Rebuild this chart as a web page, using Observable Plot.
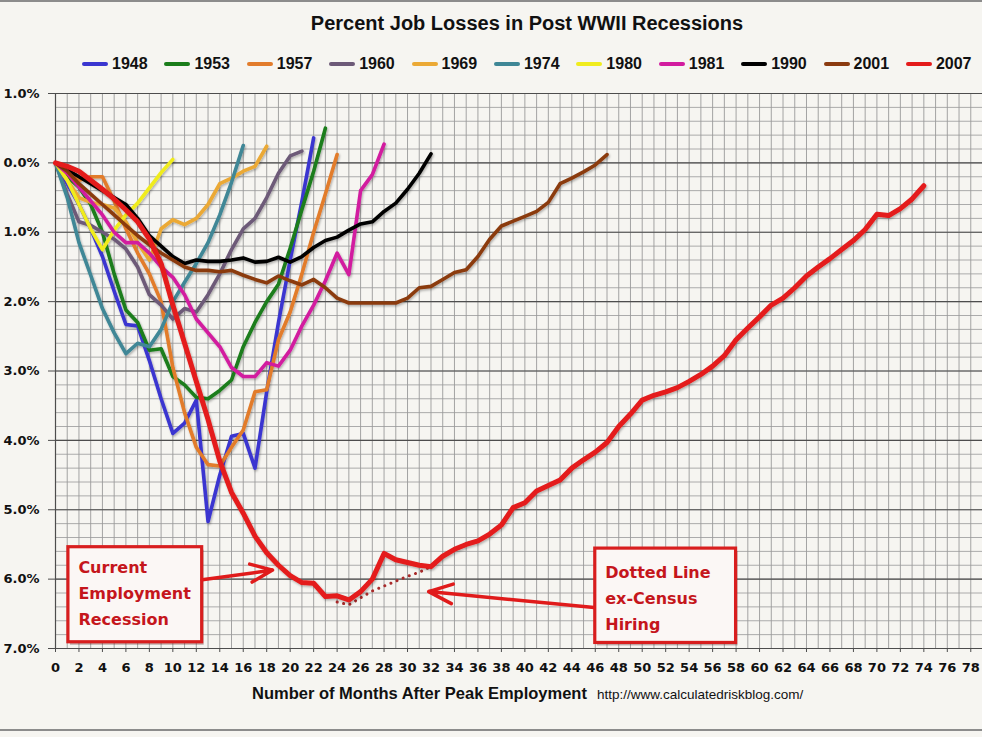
<!DOCTYPE html>
<html>
<head>
<meta charset="utf-8">
<script src="https://cdn.jsdelivr.net/npm/d3@7"></script>
<script src="https://cdn.jsdelivr.net/npm/@observablehq/plot@0.6"></script>
<style>
  html, body { margin: 0; padding: 0; background: #f6f5f1; }
  #wrap { position: relative; width: 982px; height: 737px; overflow: hidden; background: #f6f5f1; font-family: "Liberation Sans", Arial, sans-serif; }
  .hline { position: absolute; left: 0; width: 982px; height: 2px; background: #8c8c8c; }
  #title { position: absolute; left: 0; top: 12px; width: 982px; padding-left: 72px; box-sizing: border-box; text-align: center; font-weight: bold; font-size: 20px; color: #111; }
  #legend { position: absolute; left: 82px; top: 54px; height: 20px; display: flex; }
  .item { width: 82.4px; display: flex; align-items: center; }
  .sw { width: 26px; height: 4px; border-radius: 2px; margin-right: 4px; }
  .lab { font-weight: bold; font-size: 16px; color: #111; }
  #chart { position: absolute; left: 0; top: 80px; }
  #xtitle { position: absolute; left: 252px; top: 684px; display: flex; align-items: baseline; white-space: nowrap; color: #111; }
  #xtitle .t { font-weight: bold; font-size: 16.5px; }
  #xtitle .u { font-size: 13.5px; margin-left: 10px; }
</style>
</head>
<body>
<div id="wrap">
  <div class="hline" style="top:0"></div>
  <div id="title">Percent Job Losses in Post WWII Recessions</div>
  <div id="legend"></div>
  <div id="chart"></div>
  <div id="xtitle"><span class="t">Number of Months After Peak Employment</span><span class="u">http://www.calculatedriskblog.com/</span></div>
  <div class="hline" style="top:729px"></div>
</div>
<script>
// ---- data (percent change in employment vs. peak, by month after peak) ----
const years = ["1948", "1953", "1957", "1960", "1969", "1974", "1980", "1981", "1990", "2001", "2007"];
const colors = ["#3a36d0", "#1a7d1a", "#e27c2c", "#6d5a78", "#eba935", "#3f8796", "#f0ec1e", "#d21c9f", "#000000", "#8b3b10", "#e41b1b"];

const s1948 = [0, -0.3, -0.6, -0.95, -1.35, -1.85, -2.33, -2.35, -2.85, -3.4, -3.9, -3.75, -3.42, -5.17, -4.5, -3.94, -3.9, -4.4, -3.3, -2.3, -1.4, -0.55, 0.36];
const s1953 = [0, -0.2, -0.35, -0.6, -1.0, -1.6, -2.12, -2.3, -2.7, -2.68, -3.08, -3.2, -3.38, -3.4, -3.28, -3.13, -2.65, -2.3, -2.0, -1.75, -1.23, -0.67, -0.12, 0.5];
const s1957 = [0, -0.15, -0.25, -0.2, -0.2, -0.55, -0.95, -1.3, -1.6, -2.0, -2.95, -3.6, -4.1, -4.35, -4.37, -4.1, -3.85, -3.3, -3.27, -2.55, -2.15, -1.6, -1.0, -0.45, 0.12];
const s1960 = [0, -0.45, -0.85, -0.9, -1.0, -1.1, -1.24, -1.5, -1.9, -2.05, -2.25, -2.1, -2.15, -1.9, -1.6, -1.25, -0.95, -0.8, -0.5, -0.15, 0.1, 0.17];
const s1969 = [0, -0.25, -0.5, -0.57, -0.6, -0.65, -0.85, -1.15, -1.4, -0.95, -0.82, -0.89, -0.8, -0.6, -0.3, -0.22, -0.12, -0.05, 0.24];
const s1974 = [0, -0.5, -1.15, -1.62, -2.1, -2.45, -2.75, -2.6, -2.65, -2.4, -2.0, -1.72, -1.45, -1.15, -0.75, -0.28, 0.25];
const s1980 = [0, -0.25, -0.6, -0.95, -1.25, -0.97, -0.75, -0.58, -0.36, -0.14, 0.05];
const s1981 = [0, -0.15, -0.35, -0.55, -0.75, -1.0, -1.15, -1.15, -1.3, -1.5, -1.65, -1.9, -2.25, -2.45, -2.65, -2.95, -3.08, -3.08, -2.88, -2.93, -2.7, -2.35, -2.05, -1.7, -1.3, -1.61, -0.4, -0.17, 0.27];
const s1990 = [0, -0.1, -0.2, -0.3, -0.4, -0.5, -0.6, -0.8, -1.05, -1.2, -1.35, -1.45, -1.4, -1.42, -1.42, -1.4, -1.37, -1.43, -1.42, -1.36, -1.43, -1.35, -1.22, -1.12, -1.07, -0.97, -0.88, -0.85, -0.7, -0.58, -0.38, -0.15, 0.13];
const s2001 = [0, -0.12, -0.3, -0.45, -0.6, -0.75, -0.9, -1.05, -1.18, -1.3, -1.4, -1.5, -1.55, -1.55, -1.57, -1.55, -1.62, -1.68, -1.73, -1.63, -1.7, -1.76, -1.68, -1.8, -1.95, -2.02, -2.02, -2.02, -2.02, -2.02, -1.95, -1.8, -1.78, -1.68, -1.58, -1.54, -1.35, -1.1, -0.91, -0.84, -0.77, -0.7, -0.57, -0.3, -0.22, -0.13, -0.03, 0.12];
const s2007 = [0, -0.05, -0.12, -0.25, -0.38, -0.52, -0.68, -0.85, -1.1, -1.45, -2.05, -2.6, -3.15, -3.7, -4.3, -4.75, -5.05, -5.38, -5.62, -5.8, -5.95, -6.05, -6.06, -6.25, -6.24, -6.3, -6.18, -6.0, -5.63, -5.72, -5.76, -5.8, -5.82, -5.67, -5.57, -5.5, -5.45, -5.35, -5.22, -4.97, -4.9, -4.73, -4.65, -4.57, -4.4, -4.28, -4.17, -4.03, -3.8, -3.62, -3.42, -3.35, -3.3, -3.24, -3.15, -3.05, -2.93, -2.78, -2.55, -2.38, -2.22, -2.05, -1.95, -1.8, -1.63, -1.5, -1.38, -1.25, -1.12, -0.96, -0.74, -0.76, -0.66, -0.52, -0.33];

// 2007 excluding census hiring (dotted), months 24..32
const censusMonths = [24, 25, 26, 27, 28, 29, 30, 31, 32];
const censusValues = [-6.33, -6.37, -6.27, -6.17, -6.1, -6.03, -5.96, -5.9, -5.82];

// axis ticks
const xTicks = d3.range(0, 79, 2);
const yTicks = [1, 0, -1, -2, -3, -4, -5, -6, -7];

// annotations (in data units: months, percent)
const boxes = [
  {x1: 1.1, x2: 12.5, y1: -5.54, y2: -6.91, tx: 1.95, ty: -6.17, text: "Current\nEmployment\nRecession"},
  {x1: 46.0, x2: 58.0, y1: -5.56, y2: -6.92, tx: 46.85, ty: -6.24, text: "Dotted Line\nex-Census\nHiring"}
];
const arrows = [
  {x1: 12.5, y1: -6.01, x2: 18.5, y2: -5.87},
  {x1: 45.9, y1: -6.41, x2: 31.8, y2: -6.18}
];

// ---- build tables ----
const seriesValues = [s1948, s1953, s1957, s1960, s1969, s1974, s1980, s1981, s1990, s2001, s2007];
const table = years.flatMap((yr, i) => seriesValues[i].map((v, m) => ({year: yr, month: m, value: v})));
const census = censusMonths.map((m, i) => ({month: m, value: censusValues[i]}));
const minorY = d3.range(-70, 11, 2).map(d => d / 10);
const monthGrid = d3.range(1, 80);

// ---- legend ----
const legend = document.getElementById("legend");
years.forEach((yr, i) => {
  const it = document.createElement("div");
  it.className = "item";
  it.innerHTML = `<div class="sw" style="background:${colors[i]}"></div><span class="lab">${yr}</span>`;
  legend.appendChild(it);
});

const chart = Plot.plot({
  width: 982,
  height: 600,
  marginLeft: 55,
  marginRight: 0,
  marginTop: 13,
  marginBottom: 32,
  style: {background: "transparent", overflow: "visible"},
  x: {domain: [0, 79], label: null},
  y: {domain: [-7, 1], label: null},
  color: {domain: years, range: colors},
  marks: [
    Plot.ruleY(minorY, {stroke: "#a3a3a3", strokeWidth: 0.9}),
    Plot.ruleX(monthGrid, {stroke: "#9a9a9a", strokeWidth: 0.9}),
    Plot.ruleY(yTicks, {stroke: "#4d4d4d", strokeWidth: 1.2}),
    Plot.ruleX([0], {stroke: "#4d4d4d", strokeWidth: 1.2}),
    Plot.axisX({ticks: xTicks, tickFormat: d => String(d), tickSize: 4, tickPadding: 10, fontSize: 13, fontWeight: "bold", fontFamily: "DejaVu Sans", fill: "#111", stroke: "#4d4d4d", label: null}),
    Plot.axisY({ticks: yTicks, tickFormat: d => Math.abs(d).toFixed(1) + "%", tickSize: 7, tickPadding: 9, fontSize: 13, fontWeight: "bold", fontFamily: "DejaVu Sans", fill: "#111", stroke: "#4d4d4d", label: null}),
    Plot.line(table, {filter: d => d.year !== "2007", x: "month", y: "value", z: "year", stroke: "year", strokeWidth: 3.6, strokeLinejoin: "round", strokeLinecap: "round", className: "series"}),
    Plot.line(census, {x: "month", y: "value", stroke: "#a82a2a", strokeWidth: 3, strokeDasharray: "0.1,6.5", strokeLinecap: "round"}),
    Plot.line(table, {filter: d => d.year === "2007", x: "month", y: "value", stroke: "year", strokeWidth: 5, strokeLinejoin: "round", strokeLinecap: "round", className: "series"}),
    Plot.rect(boxes, {x1: "x1", x2: "x2", y1: "y1", y2: "y2", fill: "#5a2a2a", fillOpacity: 0.35, dx: 2, dy: 3}),
    Plot.rect(boxes, {x1: "x1", x2: "x2", y1: "y1", y2: "y2", fill: "#fbf7f5", stroke: "#d81e1e", strokeWidth: 3.2}),
    Plot.text(boxes, {x: "tx", y: "ty", text: "text", textAnchor: "start", lineAnchor: "middle", lineHeight: 1.62, fontSize: 16, fontWeight: "bold", fontFamily: "DejaVu Sans", fill: "#c5161c"}),
    Plot.arrow(arrows, {x1: "x1", y1: "y1", x2: "x2", y2: "y2", stroke: "#e01b1b", strokeWidth: 3.5, headLength: 11, headAngle: 45})
  ]
});

// soft shadow on series lines, like the original
const svg = d3.select(chart);
const defs = svg.insert("defs", ":first-child");
const f = defs.append("filter").attr("id", "lineShadow").attr("x", "-5%").attr("y", "-5%").attr("width", "110%").attr("height", "110%");
f.append("feDropShadow").attr("dx", 1).attr("dy", 1.5).attr("stdDeviation", 1).attr("flood-color", "#000").attr("flood-opacity", 0.3);
svg.selectAll("g.series").attr("filter", "url(#lineShadow)");

document.getElementById("chart").appendChild(chart);
</script>
</body>
</html>
